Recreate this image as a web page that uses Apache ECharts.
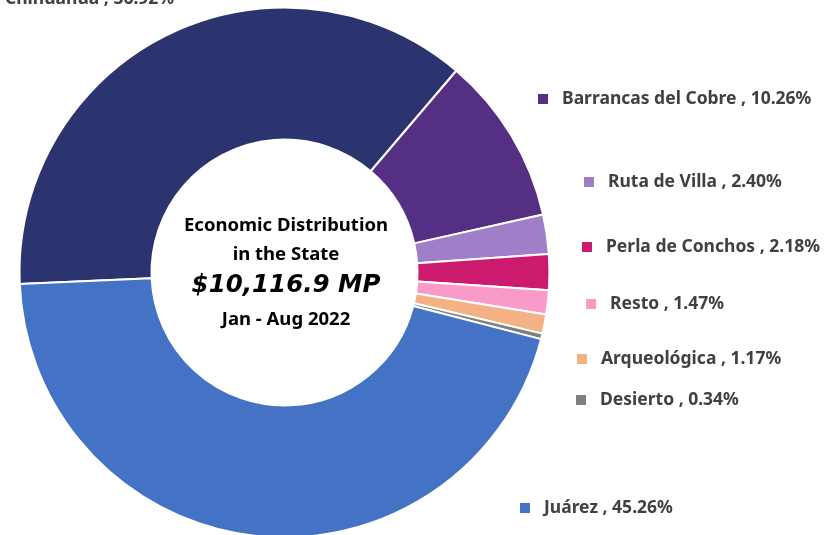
<!DOCTYPE html>
<html>
<head>
<meta charset="utf-8">
<script src="https://cdn.jsdelivr.net/npm/echarts@6/dist/echarts.min.js"></script>
<style>
  html, body { margin: 0; padding: 0; background: #ffffff; }
  #chart { width: 837px; height: 535px; }
</style>
</head>
<body>
<div id="chart"></div>
<script>
// Share of economic activity by region (percent), clockwise from the left
const regions = ['Chihuahua', 'Barrancas del Cobre', 'Ruta de Villa', 'Perla de Conchos',
                 'Resto', 'Arqueológica', 'Desierto', 'Juárez'];
const shares = [36.92, 10.26, 2.40, 2.18, 1.47, 1.17, 0.34, 45.26];
const sliceColors = ['#2B346E', '#552F83', '#A07FC8', '#CC1A6E', '#FA9AC9', '#F4B183', '#7F7F7F', '#4472C4'];

// Centre caption
const captionLines = ['Economic Distribution', 'in the State', '$10,116.9 MP', 'Jan - Aug 2022'];

// Label anchor points (left edge of the colour square, vertical middle)
const labelAnchors = [
  [-19, -1], [538, 99], [584, 182], [582, 247],
  [586, 304], [577, 359], [576, 400], [520, 508]
];

const FONT = '"Noto Sans", "Open Sans", sans-serif';
const chart = echarts.init(document.getElementById('chart'));

function caption(text, y, font) {
  return {
    type: 'text', x: 286, y: y,
    style: { text: text, font: font, fill: '#000', align: 'center', verticalAlign: 'middle' }
  };
}

chart.setOption({
  animation: false,
  backgroundColor: '#ffffff',
  graphic: [
    caption(captionLines[0], 226, 'bold 18.5px ' + FONT),
    caption(captionLines[1], 255, 'bold 18.5px ' + FONT),
    caption(captionLines[2], 286, 'italic bold 24.5px "DejaVu Sans", ' + FONT),
    caption(captionLines[3], 320, 'bold 18.5px ' + FONT)
  ],
  series: [{
    type: 'pie',
    center: [284.5, 272.5],
    radius: [133, 265],
    startAngle: 182.5,
    clockwise: true,
    avoidLabelOverlap: false,
    itemStyle: { borderColor: '#ffffff', borderWidth: 2 },
    emphasis: { disabled: true },
    labelLine: { show: false },
    label: {
      show: true,
      position: 'outside',
      formatter: (p) => '{sq|}{gap|}{t|' + p.name + ' , ' + p.value.toFixed(2) + '%}',
      rich: {
        sq: { width: 10, height: 10 },
        gap: { width: 14 },
        t: { fontFamily: FONT, fontWeight: 'bold', fontSize: 17.5, color: '#404040' }
      }
    },
    labelLayout: (params) => {
      const a = labelAnchors[params.dataIndex];
      return { x: a[0], y: a[1], align: 'left', verticalAlign: 'middle', hideOverlap: false };
    },
    data: regions.map((name, i) => ({
      name: name,
      value: shares[i],
      itemStyle: { color: sliceColors[i] },
      label: { rich: { sq: { width: 10, height: 10, backgroundColor: sliceColors[i] } } }
    }))
  }]
});
</script>
</body>
</html>
